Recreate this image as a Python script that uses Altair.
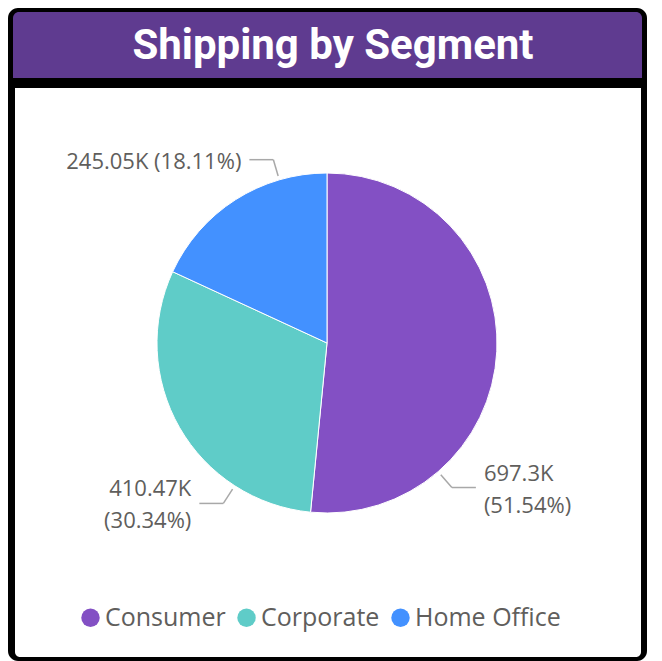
import altair as alt
import pandas as pd

# ---- data ----
segments = ["Consumer", "Corporate", "Home Office"]
values_k = [697.3, 410.47, 245.05]
colors = ["#8350C4", "#5FCCC8", "#4391FF"]
title_text = "Shipping by Segment"

total = sum(values_k)
df = pd.DataFrame({
    "segment": segments,
    "value": values_k,
    "val_txt": [f"{v:g}K" for v in values_k],
    "pct_txt": [f"({v / total * 100:.2f}%)" for v in values_k],
})

# ---- layout constants ----
W, H = 639, 653
CX, CY, R = 319, 335, 170
R1, R2, HLEN, GAP = 174, 191, 24, 8
LINE_H = 32
LABEL_FONT = "Open Sans"
GRAY = "#605E5C"

one = pd.DataFrame({"k": [0]})

frame = alt.Chart(one).mark_rect(color="black", cornerRadius=10).encode(
    x=alt.value(0), x2=alt.value(W), y=alt.value(0), y2=alt.value(H))
header = alt.Chart(one).mark_rect(color="#5F3B90", cornerRadiusTopLeft=6,
                                  cornerRadiusTopRight=6).encode(
    x=alt.value(5), x2=alt.value(634), y=alt.value(4), y2=alt.value(70))
body = alt.Chart(one).mark_rect(color="white", cornerRadiusBottomLeft=5,
                                cornerRadiusBottomRight=5).encode(
    x=alt.value(7), x2=alt.value(633), y=alt.value(80), y2=alt.value(649))
title = alt.Chart(one).mark_text(text=title_text, font="Roboto", fontWeight="bold",
                                 fontSize=42, color="white", align="center",
                                 baseline="alphabetic").encode(
    x=alt.value(325), y=alt.value(51))

arcs = alt.Chart(df).mark_arc(outerRadius=R, stroke="white", strokeWidth=1).encode(
    theta=alt.Theta("value:Q", stack=True),
    color=alt.Color("segment:N",
                    scale=alt.Scale(domain=segments, range=colors),
                    legend=alt.Legend(orient="none", legendX=70, legendY=597,
                                      direction="horizontal", title=None,
                                      symbolType="circle", symbolSize=340,
                                      symbolStrokeWidth=0, symbolOpacity=1,
                                      labelFontSize=25, labelFont=LABEL_FONT,
                                      labelColor=GRAY, columnPadding=8,
                                      labelOffset=2, padding=0, labelLimit=300)),
    order=alt.Order("segment:N"),
    x=alt.value(CX), y=alt.value(CY),
)

geo = alt.Chart(df).transform_joinaggregate(
    total="sum(value)"
).transform_window(
    cum="sum(value)", sort=[alt.SortField("segment")], frame=[None, 0]
).transform_calculate(
    a0="(datum.cum - datum.value) / datum.total * 2 * PI",
    a1="datum.cum / datum.total * 2 * PI",
).transform_calculate(
    q25="datum.a0 + 0.25 * (datum.a1 - datum.a0)",
    q75="datum.a0 + 0.75 * (datum.a1 - datum.a0)",
).transform_calculate(
    a="abs(cos(datum.q75)) >= abs(cos(datum.q25)) ? datum.q75 : datum.q25",
).transform_calculate(
    side="sin(datum.a) >= 0 ? 1 : -1",
    x1=f"{CX} + {R1} * sin(datum.a)",
    y1=f"{CY} - {R1} * cos(datum.a)",
    x2=f"{CX} + {R2} * sin(datum.a)",
    y2=f"{CY} - {R2} * cos(datum.a)",
).transform_calculate(
    x3=f"datum.x2 + datum.side * {HLEN}",
    tx=f"datum.x2 + datum.side * {HLEN + GAP}",
    wrap=f"datum.y2 > {CY}",
).transform_calculate(
    label="datum.wrap ? datum.val_txt + '|' + datum.pct_txt : datum.val_txt + ' ' + datum.pct_txt",
    ty=f"datum.y2 + 2 - (datum.wrap ? {LINE_H / 2} : 0)",
)

lead1 = geo.mark_rule(color="#A8A8A8", strokeWidth=1.5).encode(
    x=alt.X("x1:Q", scale=None, axis=None), y=alt.Y("y1:Q", scale=None, axis=None),
    x2="x2:Q", y2="y2:Q")
lead2 = geo.mark_rule(color="#A8A8A8", strokeWidth=1.5).encode(
    x=alt.X("x2:Q", scale=None, axis=None), y=alt.Y("y2:Q", scale=None, axis=None),
    x2="x3:Q", y2="y2:Q")

txt_kw = dict(font=LABEL_FONT, fontSize=22, color=GRAY, baseline="middle",
              lineBreak="|", lineHeight=LINE_H)
lab_r = geo.transform_filter("datum.side > 0").mark_text(align="left", **txt_kw).encode(
    x=alt.X("tx:Q", scale=None, axis=None), y=alt.Y("ty:Q", scale=None, axis=None),
    text="label:N")
lab_l = geo.transform_filter("datum.side < 0").mark_text(align="right", **txt_kw).encode(
    x=alt.X("tx:Q", scale=None, axis=None), y=alt.Y("ty:Q", scale=None, axis=None),
    text="label:N")

chart = alt.layer(frame, header, body, title, arcs, lead1, lead2, lab_r, lab_l).properties(
    width=W, height=H, padding=0,
    autosize=alt.AutoSizeParams(type="none"),
).configure_view(stroke=None)

chart.save("out.html", embed_options={"renderer": "svg", "actions": False})
